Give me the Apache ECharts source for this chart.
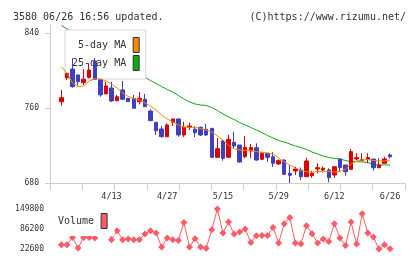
<!DOCTYPE html>
<html><head><meta charset="utf-8">
<script src="https://cdn.jsdelivr.net/npm/echarts@6/dist/echarts.min.js"></script>
<style>html,body{margin:0;padding:0;background:#fff}#c{width:420px;height:259px}</style>
</head><body><div id="c"></div>
<script>
const dates = ['3/31','4/1','4/2','4/3','4/6','4/7','4/8','4/9','4/10','4/13','4/14','4/15','4/16','4/17','4/20','4/21','4/22','4/23','4/24','4/27','4/28','4/30','5/1','5/7','5/8','5/11','5/12','5/13','5/14','5/15','5/18','5/19','5/20','5/21','5/22','5/25','5/26','5/27','5/28','5/29','6/1','6/2','6/3','6/4','6/5','6/8','6/9','6/10','6/11','6/12','6/15','6/16','6/17','6/18','6/19','6/22','6/23','6/24','6/25','6/26'];
const labelDates = ['4/13','4/27','5/15','5/29','6/12','6/26'];
const openP = [766.7,792.3,801.6,795.2,787,792.7,810,790,775,781.3,767.8,779.2,770.3,770.3,766.7,769.3,756.8,744.7,737.6,729.4,744.7,748.3,731.2,739.4,737.3,739.4,737.3,738.3,707.4,724.8,707.4,723.4,720.5,708,714.1,717.7,705.3,711.7,708,700.3,704.5,690.3,692.8,693.9,686.7,687.8,694.9,693.9,693.9,688.5,705.6,699.2,694.6,705.6,703.8,704.9,705.6,696.3,701,709.9];
const closeP = [771,797,782.7,788,790.6,800.5,790.6,774,783.5,767.5,772,769.3,766.7,759.7,770.3,761.4,746.5,735.8,729.4,741.9,748.3,731.2,739.4,740.8,733.6,731.2,731.2,707.4,716.6,706.3,726.6,719.5,702.4,718.1,717.7,704.5,711.7,707.4,701,703.8,689.3,688.2,694.9,686.7,703.5,690.3,696.3,695.7,685.6,697.4,696.3,692,713.4,707,704.9,707,696.3,699.2,705.6,708];
const lowP = [762.5,790,781.7,783.8,784.5,791.5,790,772,775,766.4,767,768.5,766.4,759.7,764,761,746,731.2,728.5,729,740.8,729.4,729.1,736.5,729,730,730.1,707,707,703.8,707,717,701.7,706.7,706.7,703.8,704.5,702.7,697,699.2,688.5,680,688.5,683.2,686.4,685.6,690.3,691.4,680.7,685.6,692,687.8,694.6,704.5,703.5,701,693.1,696.3,701,706.3];
const highP = [779.2,798,813,795.5,801.3,807.7,812,790.5,788,788,774,788.8,770.5,773.9,777,775,758.6,745,740.8,743.7,748.3,748.3,745.4,744.3,740.8,740.1,742.9,738.7,728,725.9,731.2,734.7,720.5,730.1,721.6,722.3,713.4,712,713,705.3,705.3,699.2,697.4,696.5,707,692.8,701,697.4,695.7,697.4,705.6,699.2,716.3,711.7,711.7,711.7,705.6,706.3,708,711.7];
const ma5 = [804,797.3,786.7,782.7,783.5,788.8,791.2,791,788.8,785.6,781.3,776,772.3,770.1,768.5,765.4,762.1,757.9,752.5,748.3,745.1,741.9,739.7,739.4,739.2,738.1,736.5,734.4,730.1,725.9,720.5,716.3,715.2,714.9,714.5,713.6,712.5,712,710.9,706.7,702.4,699.2,696,693.3,692,691.4,692.3,692.3,692.3,691.7,692.3,694.9,700.3,703.5,704.5,705.1,704,703.5,703.5,704.5];
const ma25 = [848,844.3,840.5,836.8,833.1,829.3,825.6,821.9,818.1,814.4,810.7,806.9,803.2,799.5,795.7,792.5,789.3,786.1,782.9,779.7,777.1,773.3,769.6,766.4,764.3,763.2,762.7,760.5,757.3,753.6,750.4,747.7,744.5,741.9,739.2,736.5,733.9,730.7,728,725.3,723.7,721.6,719.5,717.9,715.7,713.1,710.9,708.8,707.2,706.3,705.6,704,702.9,702.7,702.4,701.9,699.7,699.2,699.2,699.2];
const volume = [35400,35400,58800,24800,58800,58800,56900,110000,95000,51400,80300,51400,53700,51400,51400,69700,80300,72900,28000,56900,51400,49200,106900,28000,54600,28000,24200,83500,150000,72900,108100,69700,76100,85700,42800,64300,65200,65200,90800,40900,102700,122900,40900,38600,96300,70700,40900,53700,46000,102700,56900,33200,108100,37700,134700,72900,60100,21600,35400,22600];
const priceTicks = [680,760,840];
const volTicks = [22600,86200,149800];

const pad = a => ['-'].concat(a).concat(['-','-']);
const cats = [''].concat(dates).concat(['','']);
const candles = ['-'].concat(dates.map((d,i)=>[openP[i],closeP[i],lowP[i],highP[i]])).concat(['-','-']);

const FONT = 'DejaVu Sans Mono';
const GRID = '#cccccc';
const chart = echarts.init(document.getElementById('c'), null, {renderer:'canvas'});
chart.setOption({
  animation:false,
  backgroundColor:'#fff',
  title:[
    {text:'3580 06/26 16:56 updated.', left:8, top:7, textStyle:{fontFamily:FONT,fontSize:10,fontWeight:'normal',color:'#333'}},
    {text:'(C)https://www.rizumu.net/', right:9, top:7, textStyle:{fontFamily:FONT,fontSize:10,fontWeight:'normal',color:'#333'}}
  ],
  legend:[
    {data:['5-day MA','25-day MA'], orient:'vertical', align:'right', left:65, top:30, z:4,
     itemWidth:6, itemHeight:15, itemGap:2, icon:'rect', padding:[7,6,8,7],
     backgroundColor:'#fff', borderColor:'#d4d4d4', borderWidth:1,
     itemStyle:{borderColor:'#333',borderWidth:1},
     textStyle:{fontFamily:FONT,fontSize:10,color:'#333',padding:[0,2,0,0]}},
    {data:['Volume'], orient:'vertical', align:'right', left:51, top:206, z:4,
     itemWidth:6, itemHeight:15, icon:'rect', padding:[7,7,7,7], backgroundColor:'#fff',
     itemStyle:{borderColor:'#333',borderWidth:1},
     textStyle:{fontFamily:FONT,fontSize:10,color:'#333',padding:[0,2,0,0]}}
  ],
  grid:[
    {left:50, top:25, width:355, height:158},
    {left:53, top:25, width:351, height:158},
    {left:53, top:209, width:351, height:44}
  ],
  xAxis:[
    {type:'value', gridIndex:0, min:0, max:11, interval:1,
     axisLine:{show:true,lineStyle:{color:GRID}}, axisTick:{show:true,length:7,lineStyle:{color:GRID}},
     axisLabel:{show:false}, splitLine:{show:false}},
    {type:'category', gridIndex:1, data:cats, boundaryGap:true,
     axisLine:{show:false}, axisTick:{show:false}, splitLine:{show:false},
     axisLabel:{show:true, margin:9, fontFamily:FONT, fontSize:8.5, color:'#333',
       interval:(i,v)=>labelDates.indexOf(v)>=0}},
    {type:'category', gridIndex:2, data:cats, boundaryGap:true, show:false}
  ],
  yAxis:[
    {type:'value', gridIndex:0, min:680, max:848.5,
     axisLine:{show:true,lineStyle:{color:GRID}},
     axisTick:{show:true,length:5,lineStyle:{color:GRID},customValues:priceTicks},
     axisLabel:{show:true,margin:11,fontFamily:FONT,fontSize:8,color:'#333',customValues:priceTicks,formatter:v=>String(v)},
     splitLine:{show:false}},
    {type:'value', gridIndex:1, min:680, max:848.5, show:false, splitLine:{show:false}},
    {type:'value', gridIndex:2, min:8830, max:149800,
     axisLine:{show:false}, axisTick:{show:false}, splitLine:{show:false},
     axisLabel:{show:true,margin:9,fontFamily:FONT,fontSize:8,color:'#333',customValues:volTicks,formatter:v=>String(v)}}
  ],
  series:[
    {name:'25-day MA', type:'line', xAxisIndex:1, yAxisIndex:1, data:pad(ma25), z:2,
     symbol:'none', lineStyle:{width:1,color:'#11a811'}, itemStyle:{color:'#11a811'}},
    {name:'price', type:'candlestick', xAxisIndex:1, yAxisIndex:1, data:candles, z:5, barWidth:4,
     itemStyle:{color:'#dd0000', color0:'#3f3fbf', borderColor:'#dd0000', borderColor0:'#3f3fbf', borderWidth:1}},
    {name:'5-day MA', type:'line', xAxisIndex:1, yAxisIndex:1, data:pad(ma5), z:6,
     symbol:'none', lineStyle:{width:1,color:'#f08c00'}, itemStyle:{color:'#f08c00'}},
    {name:'Volume', type:'line', xAxisIndex:2, yAxisIndex:2, data:pad(volume), z:3, clip:false,
     symbol:'diamond', symbolSize:7, showAllSymbol:true,
     lineStyle:{width:1,color:'#ff5b66'}, itemStyle:{color:'#ff5b66'}}
  ]
});
</script></body></html>
